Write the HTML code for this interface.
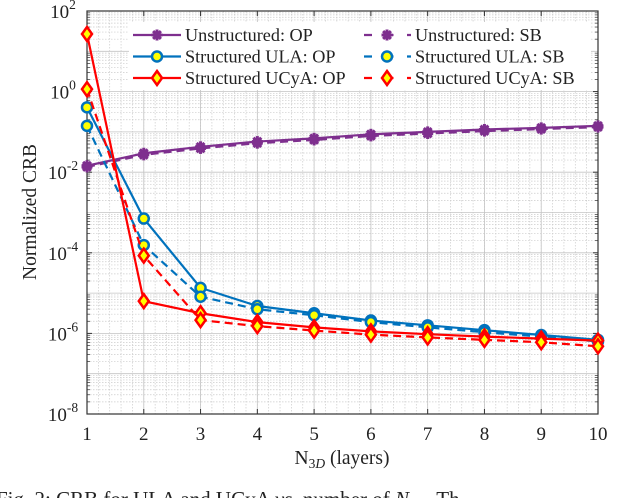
<!DOCTYPE html>
<html><head><meta charset="utf-8"><style>
body{margin:0;background:#fff;width:640px;height:498px;overflow:hidden}
svg{display:block;font-family:"Liberation Serif",serif}
</style></head><body>
<svg id="chart" width="640" height="498">
<g id="grid"></g>
<g id="axes"></g>
<g id="series"></g>
<g id="legend"></g>
<text x="36" y="212" font-size="19.5" text-anchor="middle" transform="rotate(-90 36 212)" fill="#222">Normalized CRB</text>
<text x="342" y="464" font-size="19.5" text-anchor="middle" fill="#222">N<tspan font-size="13.5" dy="4">3<tspan font-style="italic">D</tspan></tspan><tspan dy="-4"> (layers)</tspan></text>
<text x="-4" y="506" font-size="21" fill="#222">Fig. 2: CRB for ULA and UCyA <tspan font-style="italic">vs.</tspan> number of <tspan font-style="italic">N</tspan><tspan font-size="14" dy="4" font-style="italic">3D</tspan><tspan dy="-4">. Th</tspan></text>
</svg>
<script>
const xCats=[1,2,3,4,5,6,7,8,9,10];
const yTickExps=[2,0,-2,-4,-6,-8];
const unstrOP=[-1.84,-1.53,-1.37,-1.24,-1.16,-1.06,-1.0,-0.94,-0.9,-0.85];
const unstrSB=[-1.87,-1.57,-1.41,-1.28,-1.2,-1.1,-1.04,-0.98,-0.93,-0.88];
const ulaOP=[-0.39,-3.15,-4.87,-5.32,-5.5,-5.68,-5.8,-5.92,-6.04,-6.16];
const ulaSB=[-0.85,-3.81,-5.09,-5.4,-5.55,-5.72,-5.85,-5.97,-6.08,-6.2];
const ucyOP=[1.43,-5.2,-5.5,-5.72,-5.85,-5.95,-6.02,-6.08,-6.13,-6.18];
const ucySB=[0.06,-4.07,-5.67,-5.82,-5.93,-6.03,-6.1,-6.16,-6.22,-6.32];
const L=87,R=598,T=11,B=414;
const X=v=>L+(v-1)*(R-L)/9;
const Y=lg=>T+(2-lg)*(B-T)/10;
const NS='http://www.w3.org/2000/svg';
function mk(tag,at,parent){const e=document.createElementNS(NS,tag);for(const k in at)e.setAttribute(k,at[k]);parent.appendChild(e);return e;}
const grid=document.getElementById('grid'),axes=document.getElementById('axes'),ser=document.getElementById('series'),leg=document.getElementById('legend');
mk('rect',{x:L,y:T,width:R-L,height:B-T,fill:'#fff'},grid);
for(let d=-8;d<2;d++)for(let m=2;m<10;m++){const y=Y(d+Math.log10(m));mk('line',{x1:L,x2:R,y1:y,y2:y,stroke:'#ccc','stroke-width':0.7,'stroke-dasharray':'1.5,1.5'},grid);}
for(let v=1;v<10;v+=0.2){const x=X(v);mk('line',{x1:x,x2:x,y1:T,y2:B,stroke:'#ccc','stroke-width':0.7,'stroke-dasharray':'1.5,1.5'},grid);}
for(let d=-8;d<=2;d++){const y=Y(d);mk('line',{x1:L,x2:R,y1:y,y2:y,stroke:'#c4c4c4','stroke-width':0.8},grid);}
xCats.forEach(v=>{const x=X(v);mk('line',{x1:x,x2:x,y1:T,y2:B,stroke:'#c4c4c4','stroke-width':0.8},grid);});
mk('rect',{x:L,y:T,width:R-L,height:B-T,fill:'none',stroke:'#333','stroke-width':1.2},axes);
xCats.forEach(v=>{const x=X(v);mk('line',{x1:x,x2:x,y1:B,y2:B-5,stroke:'#333'},axes);mk('line',{x1:x,x2:x,y1:T,y2:T+5,stroke:'#333'},axes);
const t=mk('text',{x:x,y:440,'font-size':19,'text-anchor':'middle',fill:'#222'},axes);t.textContent=v;

});
for(let d=-8;d<2;d++)for(let m=2;m<10;m++){const y=Y(d+Math.log10(m));mk('line',{x1:L,x2:L+3,y1:y,y2:y,stroke:'#333','stroke-width':0.7},axes);mk('line',{x1:R,x2:R-3,y1:y,y2:y,stroke:'#333','stroke-width':0.7},axes);}
yTickExps.forEach(e=>{const y=Y(e);mk('line',{x1:L,x2:L+5,y1:y,y2:y,stroke:'#333'},axes);mk('line',{x1:R,x2:R-5,y1:y,y2:y,stroke:'#333'},axes);
const t=mk('text',{x:63,y:y+7,'font-size':19,'text-anchor':'middle',fill:'#222'},axes);
t.innerHTML='10<tspan font-size="13.5" dy="-9">'+(e<0?'-'+(-e):e)+'</tspan>';

});
function marker(kind,x,y,p){
 if(kind==='star'){const g=mk('g',{},p);for(let i=0;i<4;i++){const a=i*Math.PI/4;mk('line',{x1:x-5.5*Math.cos(a),y1:y-5.5*Math.sin(a),x2:x+5.5*Math.cos(a),y2:y+5.5*Math.sin(a),stroke:'#7e2f8e','stroke-width':3},g);}mk('circle',{cx:x,cy:y,r:3.5,fill:'#7e2f8e'},g);return g;}
 if(kind==='circ')return mk('circle',{cx:x,cy:y,r:5,fill:'#ffff00',stroke:'#0072bd','stroke-width':2.5},p);
 return mk('polygon',{points:`${x},${y-7} ${x+5},${y} ${x},${y+7} ${x-5},${y}`,fill:'#ffff00',stroke:'#ff0000','stroke-width':2.5},p);
}
const defs=[[unstrOP,'#7e2f8e','','star','unstructured-op'],[unstrSB,'#7e2f8e','8,5','star','unstructured-sb'],
[ulaOP,'#0072bd','','circ','ula-op'],[ulaSB,'#0072bd','8,5','circ','ula-sb'],
[ucyOP,'#ff0000','','dia','ucya-op'],[ucySB,'#ff0000','8,5','dia','ucya-sb']];
defs.forEach(([d,c,da,mkK,name])=>{const g=mk('g',{},ser);
 
 
 const pl=mk('polyline',{points:d.map((v,i)=>X(xCats[i])+','+Y(v)).join(' '),fill:'none',stroke:c,'stroke-width':2.2,'stroke-dasharray':da||'none'},g);
 
 
 d.forEach((v,i)=>{const m=marker(mkK,X(xCats[i]),Y(v),g);
 
 });});
mk('rect',{x:129,y:22,width:462,height:68,fill:'#fff'},leg);
const legTxt=['Unstructured: OP','Unstructured: SB','Structured ULA: OP','Structured ULA: SB','Structured UCyA: OP','Structured UCyA: SB'];
defs.forEach(([d,c,da,mkK,name],i)=>{const col=i%2,row=Math.floor(i/2);const x0=col?363:133,y=35+row*21.5;
 const g=mk('g',{},leg);
 
 
 mk('line',{x1:x0,x2:x0+48,y1:y,y2:y,stroke:c,'stroke-width':2.2,'stroke-dasharray':da?'8,13.5':'none','stroke-dashoffset':da?'-1':'0'},g);
 marker(mkK,x0+24,y,g);
 const t=mk('text',{x:x0+52,y:y+6,'font-size':18.2,fill:'#222'},g);t.textContent=legTxt[i];});
</script>
</body></html>
